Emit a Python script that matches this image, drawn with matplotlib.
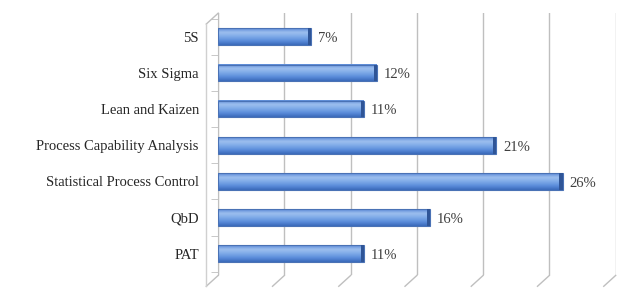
import numpy as np
import matplotlib.pyplot as plt
from matplotlib.colors import LinearSegmentedColormap

categories = ["5S", "Six Sigma", "Lean and Kaizen", "Process Capability Analysis",
              "Statistical Process Control", "QbD", "PAT"]
values = [7, 12, 11, 21, 26, 16, 11]
labels = ["7%", "12%", "11%", "21%", "26%", "16%", "11%"]

plt.rcParams['font.family'] = ['Liberation Serif', 'DejaVu Serif']

fig = plt.figure(figsize=(6.38, 2.93), dpi=100)
ax = fig.add_axes([0.342, 0.06, 0.623, 0.895])

ypos = np.arange(len(categories))
h = 0.46

# gradient for the bars (light top, darker bottom)
cmap = LinearSegmentedColormap.from_list("barblue", ["#5a89d6", "#9ec0ef", "#7eaae8", "#5b8ddb", "#3a69ba"])
grad = np.linspace(0, 1, 64).reshape(-1, 1)

for y, v, lab in zip(ypos, values, labels):
    ax.imshow(grad, cmap=cmap, aspect='auto', extent=(0, v, y + h / 2, y - h / 2),
              zorder=3, interpolation='bicubic')
    ax.add_patch(plt.Rectangle((0, y - h / 2), v, h, fill=False,
                               edgecolor='#4a72b5', lw=0.8, zorder=4))
    # darker end cap
    ax.add_patch(plt.Rectangle((v - 0.25, y - h / 2), 0.25, h,
                               facecolor='#2f5597', edgecolor='none', zorder=5))
    ax.text(v + 0.5, y + 0.05, lab, va='center', ha='left', fontsize=10.5,
            color='#404040', zorder=6)

ax.set_xlim(0, 30)
ax.set_ylim(len(categories) - 0.4, -0.65)
ax.set_xticks(np.arange(0, 31, 5))
ax.set_xticklabels([])
ax.set_yticks(ypos)
ax.set_yticklabels(categories, fontsize=10.5, color='#262626')
ax.set_yticks(np.arange(-0.5, len(categories), 1), minor=True)
ax.tick_params(axis='y', which='major', length=0, pad=14)
ax.tick_params(axis='y', which='minor', length=5, color='#bfbfbf', direction='out')
ax.tick_params(axis='x', length=0)

ax.grid(axis='x', color='#bfbfbf', lw=1, zorder=0)
for s in ['top', 'right', 'bottom']:
    ax.spines[s].set_visible(False)
ax.spines['left'].set_color('#bfbfbf')

# slanted floor strokes under each gridline (3D look)
for xt in np.arange(0, 31, 5):
    ax.plot([xt, xt - 0.9], [len(categories) - 0.4, len(categories) - 0.1],
            color='#bfbfbf', lw=1, clip_on=False, zorder=1)
ax.plot([0, -0.9], [-0.65, -0.35], color='#bfbfbf', lw=1, clip_on=False)
ax.plot([-0.9, -0.9], [-0.35, len(categories) - 0.1], color='#d0d0d0', lw=1, clip_on=False)

fig.savefig("out.png", dpi=100)
